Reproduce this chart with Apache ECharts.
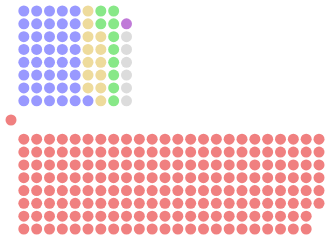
<!DOCTYPE html>
<html>
<head>
<meta charset="utf-8">
<script src="https://cdn.jsdelivr.net/npm/echarts@6/dist/echarts.min.js"></script>
<style>html,body{margin:0;padding:0;background:#fff}#c{width:330px;height:241px}</style>
</head>
<body>
<div id="c"></div>
<script>
// Opposition benches (top block), filled column by column from the aisle outward
const topParties = ['Party A', 'Party B', 'Party C', 'Independent', 'Party D'];
const topSeats = [41, 13, 10, 6, 1];
const topColors = ['#9999ff', '#eedb9c', '#88e888', '#dcdcdc', '#c07ad8'];
// Government benches (bottom block)
const bottomParties = ['Governing party'];
const bottomSeats = [190];
const bottomColors = ['#f08080'];
// Speaker
const speakerSeats = 1;
const speakerColor = '#f08080';

const ROWS = 8;
const TOP_FIRST_ROW = 0;
const BOTTOM_FIRST_ROW = 10;

const series = [];
let idx = 0;
topParties.forEach((name, p) => {
  const data = [];
  for (let i = 0; i < topSeats[p]; i++, idx++) {
    const col = Math.floor(idx / ROWS);
    const row = TOP_FIRST_ROW + (ROWS - 1 - (idx % ROWS));
    data.push([col, row]);
  }
  series.push({ name, type: 'scatter', data, symbolSize: 11, itemStyle: { color: topColors[p], opacity: 1 }, emphasis: { disabled: true }, silent: true });
});
idx = 0;
bottomParties.forEach((name, p) => {
  const data = [];
  for (let i = 0; i < bottomSeats[p]; i++, idx++) {
    const col = Math.floor(idx / ROWS);
    const row = BOTTOM_FIRST_ROW + (idx % ROWS);
    data.push([col, row]);
  }
  series.push({ name, type: 'scatter', data, symbolSize: 11, itemStyle: { color: bottomColors[p], opacity: 1 }, emphasis: { disabled: true }, silent: true });
});
const speakerData = [];
for (let i = 0; i < speakerSeats; i++) speakerData.push([-1, 8.5]);
series.push({ name: 'Speaker', type: 'scatter', data: speakerData, symbolSize: 11, itemStyle: { color: speakerColor, opacity: 1 }, silent: true });

const chart = echarts.init(document.getElementById('c'));
chart.setOption({
  animation: false,
  grid: { left: 11, top: 11, width: 308, height: 218, containLabel: false },
  xAxis: { type: 'value', min: -1, max: 23, show: false },
  yAxis: { type: 'value', min: 0, max: 17, inverse: true, show: false },
  series
});
</script>
</body>
</html>
